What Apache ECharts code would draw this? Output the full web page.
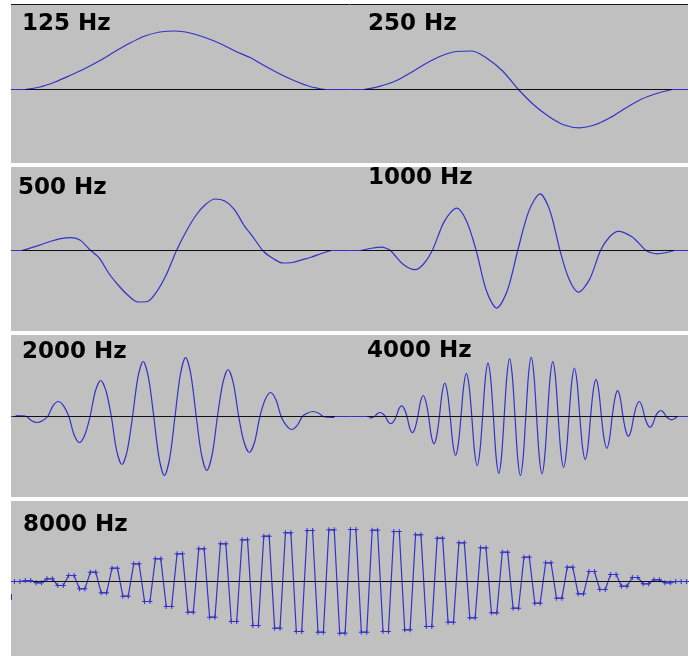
<!DOCTYPE html>
<html><head><meta charset="utf-8">
<script src="https://cdn.jsdelivr.net/npm/echarts@6/dist/echarts.min.js"></script>
<style>html,body{margin:0;padding:0;background:#fff}#c{width:689px;height:656px}</style>
</head><body><div id="c"></div>
<script>
// ---- data (amplitude units, 1 = full scale) ----
const labels = ['125 Hz', '250 Hz', '500 Hz', '1000 Hz', '2000 Hz', '4000 Hz', '8000 Hz'];

const v125 = [0, 0.042, 0.125, 0.233, 0.35, 0.483, 0.633, 0.775, 0.892, 0.958, 0.975, 0.942, 0.867, 0.767, 0.642, 0.533, 0.392, 0.258, 0.142, 0.05, 0];

const v250 = [0, 0.053, 0.137, 0.275, 0.43, 0.558, 0.633, 0.642, 0.517, 0.308, 0.008, -0.25, -0.45, -0.592, -0.638, -0.588, -0.467, -0.308, -0.163, -0.067, 0];

const v500 = [0, 0.047, 0.1, 0.155, 0.197, 0.215, 0.175, 0.017, -0.125, -0.383, -0.583, -0.75, -0.858, -0.85, -0.675, -0.383, 0, 0.317, 0.583, 0.767, 0.858, 0.825, 0.683, 0.417, 0.208, -0.013, -0.133, -0.208, -0.2, -0.155, -0.108, -0.05, 0];

const t1000 = [0, 0.134, 0.265, 0.320, 0.377, 0.534, 0.690, 0.800, 0.911, 1.067, 1.223, 1.348, 1.472, 1.604, 1.734, 1.868, 2.003, 2.146, 2.288, 2.415, 2.543, 2.661, 2.777, 2.919, 3.061, 3.175, 3.288, 3.466, 3.642, 3.711, 3.779, 3.890, 4.0];
const v1000 = [0, 0.038, 0.055, 0.038, 0, -0.225, -0.32, -0.225, 0, 0.49, 0.705, 0.49, 0, -0.675, -0.96, -0.675, 0, 0.66, 0.945, 0.66, 0, -0.485, -0.695, -0.485, 0, 0.225, 0.32, 0.225, 0, -0.038, -0.055, -0.038, 0];

const v2000 = [0.017, 0.012, 0, -0.07, -0.1, -0.07, 0, 0.177, 0.25, 0.177, 0, -0.307, -0.433, -0.307, 0, 0.425, 0.6, 0.425, 0, -0.567, -0.8, -0.567, 0, 0.648, 0.917, 0.648, 0, -0.695, -0.983, -0.695, 0, 0.695, 0.983, 0.695, 0, -0.637, -0.9, -0.637, 0, 0.553, 0.783, 0.553, 0, -0.425, -0.6, -0.425, 0, 0.283, 0.4, 0.283, 0, -0.153, -0.217, -0.153, 0, 0.058, 0.083, 0.058, 0, -0.012, -0.017];

const v4000 = [-0.025, -0.018, 0, 0.047, 0.067, 0.047, 0, -0.085, -0.12, -0.085, 0, 0.127, 0.18, 0.127, 0, -0.191, -0.27, -0.191, 0, 0.247, 0.35, 0.247, 0, -0.322, -0.455, -0.322, 0, 0.392, 0.555, 0.392, 0, -0.46, -0.65, -0.46, 0, 0.509, 0.72, 0.509, 0, -0.58, -0.82, -0.58, 0, 0.629, 0.89, 0.629, 0, -0.668, -0.945, -0.668, 0, 0.679, 0.96, 0.679, 0, -0.696, -0.985, -0.696, 0, 0.696, 0.985, 0.696, 0, -0.675, -0.955, -0.675, 0, 0.647, 0.915, 0.647, 0, -0.601, -0.85, -0.601, 0, 0.569, 0.805, 0.569, 0, -0.509, -0.72, -0.509, 0, 0.438, 0.62, 0.438, 0, -0.375, -0.53, -0.375, 0, 0.304, 0.43, 0.304, 0, -0.233, -0.33, -0.233, 0, 0.177, 0.25, 0.177, 0, -0.127, -0.18, -0.127, 0, 0.071, 0.1, 0.071, 0, -0.039, -0.055, -0.039, 0];

const v8000 = [0, 0,
 0.017, 0.017, -0.022, -0.022,
 0.045, 0.045, -0.067, -0.067,
 0.1, 0.1, -0.122, -0.122,
 0.155, 0.155, -0.188, -0.188,
 0.222, 0.222, -0.245, -0.245,
 0.295, 0.295, -0.333, -0.333,
 0.378, 0.378, -0.417, -0.417,
 0.462, 0.462, -0.512, -0.512,
 0.545, 0.545, -0.595, -0.595,
 0.628, 0.628, -0.667, -0.667,
 0.695, 0.695, -0.733, -0.733,
 0.755, 0.755, -0.778, -0.778,
 0.812, 0.812, -0.833, -0.833,
 0.85, 0.85, -0.845, -0.845,
 0.862, 0.862, -0.862, -0.862,
 0.867, 0.867, -0.845, -0.845,
 0.855, 0.855, -0.833, -0.833,
 0.833, 0.833, -0.805, -0.805,
 0.778, 0.778, -0.75, -0.75,
 0.722, 0.722, -0.678, -0.678,
 0.645, 0.645, -0.605, -0.605,
 0.562, 0.562, -0.522, -0.522,
 0.488, 0.488, -0.445, -0.445,
 0.405, 0.405, -0.362, -0.362,
 0.312, 0.312, -0.278, -0.278,
 0.238, 0.238, -0.205, -0.205,
 0.167, 0.167, -0.133, -0.133,
 0.117, 0.117, -0.078, -0.078,
 0.067, 0.067, -0.038, -0.038,
 0.028, 0.028, -0.022, -0.022,
 0, 0, 0];

// ---- layout ----
const BLUE = '#3232c8';
const GREY = '#c0c0c0';
const UNIT = 60; // px per amplitude unit
const rows = [
  {y: 5, h: 158, base: 89.5},
  {y: 167, h: 164, base: 250.5},
  {y: 335, h: 162, base: 416.5},
  {y: 501, h: 155, base: 581.5}
];
const PX0 = 11, PX1 = 688;

const indexed = v => v.map((y, i) => [i, y]);
const zipped = (t, v) => t.map((x, i) => [x, v[i]]);

const panels = [
  {row: 0, left: 25, width: 300, b0: 25, b1: 325, tx: 22, ty: 24, data: indexed(v125), xmax: v125.length - 1, smooth: 0.3},
  {row: 0, left: 364, width: 308, b0: 364, b1: 672, tx: 368, ty: 24, data: indexed(v250), xmax: v250.length - 1, smooth: 0.3},
  {row: 1, left: 22, width: 309, b0: 22, b1: 331, tx: 18, ty: 188, data: indexed(v500), xmax: v500.length - 1, smooth: 0.3},
  {row: 1, left: 361, width: 313, b0: 361, b1: 674, tx: 368, ty: 178, data: zipped(t1000, v1000), xmax: 4, smooth: 0.3},
  {row: 2, left: 15.8, width: 318.4, b0: 13, b1: 335, tx: 22, ty: 352, data: indexed(v2000), xmax: v2000.length - 1, smooth: 0.3},
  {row: 2, left: 369.2, width: 307.8, b0: 367, b1: 678, tx: 367, ty: 351, data: indexed(v4000), xmax: v4000.length - 1, smooth: 0.3},
  {row: 3, left: 14.45, width: 672.1, b0: 33, b1: 665, tx: 23, ty: 525, data: indexed(v8000), xmax: v8000.length - 1, smooth: false, marks: true}
];

const grid = [], xAxis = [], yAxis = [], series = [], graphic = [];

rows.forEach(r => {
  graphic.push({type: 'rect', silent: true, z: 0, shape: {x: PX0, y: r.y, width: PX1 - PX0, height: r.h}, style: {fill: GREY}});
  graphic.push({type: 'line', silent: true, z: 1, shape: {x1: PX0, y1: r.base, x2: PX1, y2: r.base}, style: {stroke: BLUE, lineWidth: 1}});
});
graphic.push({type: 'line', silent: true, z: 1, shape: {x1: PX0, y1: 4.5, x2: PX1, y2: 4.5}, style: {stroke: '#1a1a1a', lineWidth: 1}});
graphic.push({type: 'line', silent: true, z: 1, shape: {x1: 11.5, y1: 594, x2: 11.5, y2: 600}, style: {stroke: BLUE, lineWidth: 1}});

panels.forEach((p, i) => {
  const base = rows[p.row].base;
  grid.push({left: p.left, top: base - UNIT, width: p.width, height: 2 * UNIT, containLabel: false, outerBoundsMode: 'none', show: false});
  xAxis.push({gridIndex: i, type: 'value', min: 0, max: p.xmax, show: false});
  yAxis.push({gridIndex: i, type: 'value', min: -1, max: 1, show: false});
  series.push({
    type: 'line', xAxisIndex: i, yAxisIndex: i, data: p.data, z: 5,
    smooth: p.smooth,
    showSymbol: !!p.marks,
    symbol: 'path://M2,0H3V2H5V3H3V5H2V3H0V2H2Z',
    symbolSize: 5,
    itemStyle: {color: BLUE},
    lineStyle: {color: BLUE, width: 1.2},
    emphasis: {disabled: true},
    animation: false
  });
  graphic.push({type: 'line', silent: true, z: 6, shape: {x1: p.b0, y1: base, x2: p.b1, y2: base}, style: {stroke: '#111', lineWidth: 1}});
  graphic.push({type: 'text', silent: true, z: 10, x: p.tx, y: p.ty,
    style: {text: labels[i], font: 'bold 23px "DejaVu Sans"', fill: '#000',
      textAlign: 'left', textVerticalAlign: 'middle', align: 'left', verticalAlign: 'middle'}});
});

const chart = echarts.init(document.getElementById('c'), null, {renderer: 'canvas'});
chart.setOption({
  backgroundColor: '#fff',
  animation: false,
  grid, xAxis, yAxis, series, graphic
});
</script>
</body></html>
